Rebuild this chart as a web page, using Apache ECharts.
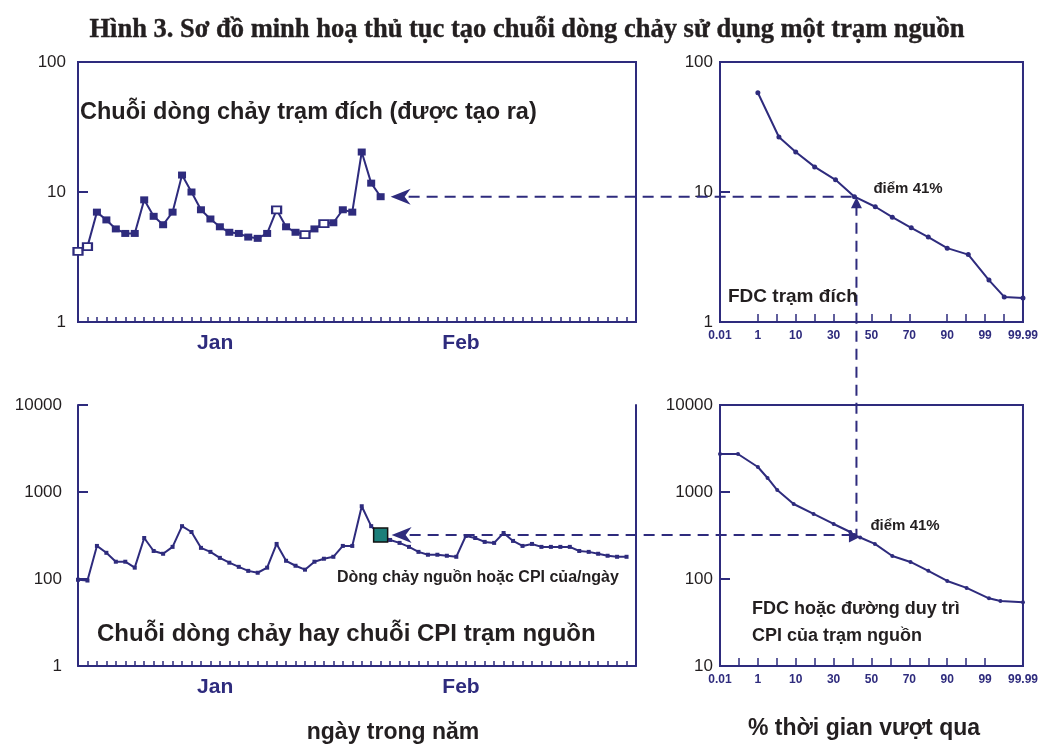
<!DOCTYPE html>
<html>
<head>
<meta charset="utf-8">
<title>Hình 3</title>
<script src="https://cdn.jsdelivr.net/npm/echarts@6/dist/echarts.min.js"></script>
<style>
  html, body { margin: 0; padding: 0; background: #fff; }
  #chart { width: 1041px; height: 744px; }
</style>
</head>
<body>
<div id="chart"></div>
<script>
// Target station (generated) daily flow, day 0..32
var targetFlow = [3.5, 3.8, 7.0, 6.1, 5.2, 4.8, 4.8, 8.7, 6.5, 5.6, 7.0, 13.5, 10, 7.3, 6.2,
                  5.4, 4.9, 4.8, 4.5, 4.4, 4.8, 7.3, 5.4, 4.9, 4.7, 5.2, 5.7, 5.8, 7.3, 7.0,
                  20.3, 11.7, 9.2];
// days drawn with hollow markers in the target series
var targetHollowDays = [0, 1, 21, 24, 26];
// Source station daily flow / CPI, day 0..58
var sourceFlow = [98, 96, 240, 200, 158, 158, 135, 296, 210, 195, 234, 405, 347, 228, 205,
                  175, 154, 138, 124, 118, 135, 253, 162, 142, 128, 158, 171, 180, 240, 240,
                  686, 405, 320, 281, 260, 234, 205, 190, 190, 185, 180, 312, 296, 267, 260,
                  338, 274, 240, 253, 234, 234, 234, 234, 210, 205, 195, 185, 180, 180];

// Flow duration curves (% time exceeded)
var targetFdcPct  = [1, 6, 10, 20, 31, 41, 52, 61, 71, 80, 90, 95, 99.1, 99.5, 99.99];
var targetFdcFlow = [58, 26.5, 20.3, 15.6, 12.4, 9.2, 7.7, 6.4, 5.3, 4.5, 3.7, 3.3, 2.1, 1.56, 1.53];
var sourceFdcPct  = [0.01, 0.48, 1, 3.3, 5.6, 9.5, 19.4, 30, 38.8, 41, 44, 51.8, 61, 70.6, 80, 90, 94.6, 99.1, 99.4, 99.99];
var sourceFdcFlow = [2735, 2735, 1938, 1449, 1054, 728, 559, 429, 347, 320, 300, 253, 184, 157, 124, 95, 79, 60, 56, 54];

// Axis ticks / labels
var exceedTicks      = [0.01, 1, 10, 30, 50, 70, 90, 99, 99.99];
var exceedTickLabels = ['0.01', '1', '10', '30', '50', '70', '90', '99', '99.99'];
var monthLabels  = ['Jan', 'Feb'];
var monthCenters = [14.5, 40.5];
var sourceYTicks  = [10, 100, 1000, 10000];
var sourceYLabels = ['1', '100', '1000', '10000'];

var splitPct = 41;   // "điểm 41%"
var targetDay = 32;  // day being generated

var NAVY = '#2e2b7d';
var INK = '#231f20';
var SANS = '"Liberation Sans", Arial, sans-serif';

// probability-like axis: piecewise linear between labelled ticks
function pctToIdx(p) {
    for (var i = 0; i < exceedTicks.length - 1; i++) {
        if (p <= exceedTicks[i + 1]) {
            return i + (p - exceedTicks[i]) / (exceedTicks[i + 1] - exceedTicks[i]);
        }
    }
    return exceedTicks.length - 1;
}

var dayTicks = [];
for (var d = 0; d <= 59; d++) dayTicks.push(d);

var axisLineStyle = { show: true, onZero: false, lineStyle: { color: NAVY, width: 2 } };

function dayAxis(grid) {
    return {
        gridIndex: grid, type: 'value', min: 0, max: 59,
        axisLine: axisLineStyle,
        axisTick: { show: true, inside: true, length: 5, customValues: dayTicks, lineStyle: { color: NAVY, width: 1.5 } },
        axisLabel: {
            customValues: monthCenters, margin: 11,
            color: NAVY, fontWeight: 'bold', fontSize: 21, fontFamily: SANS,
            formatter: function (v) { return monthLabels[monthCenters.indexOf(v)] || ''; }
        },
        splitLine: { show: false }
    };
}

function exceedAxis(grid, ticks) {
    return {
        gridIndex: grid, type: 'value', min: 0, max: 8,
        axisLine: axisLineStyle,
        axisTick: { show: true, inside: true, length: 8, customValues: ticks, lineStyle: { color: NAVY, width: 1.5 } },
        axisLabel: {
            customValues: [0, 1, 2, 3, 4, 5, 6, 7, 8], margin: 8,
            color: NAVY, fontWeight: 'bold', fontSize: 12, fontFamily: SANS,
            formatter: function (v) { return exceedTickLabels[Math.round(v)]; }
        },
        splitLine: { show: false }
    };
}

function logAxis(grid, min, max, margin, formatter) {
    return {
        gridIndex: grid, type: 'log', logBase: 10, min: min, max: max,
        axisLine: axisLineStyle,
        axisTick: { show: true, inside: true, length: 10, lineStyle: { color: NAVY, width: 2 } },
        axisLabel: {
            margin: margin, color: INK, fontSize: 17, fontFamily: SANS,
            showMinLabel: true, showMaxLabel: true,
            formatter: formatter || function (v) { return String(Math.round(v)); }
        },
        splitLine: { show: false }
    };
}

var chart = echarts.init(document.getElementById('chart'), null, { renderer: 'canvas' });

var border = { show: true, borderColor: NAVY, borderWidth: 2, backgroundColor: 'transparent' };

chart.setOption({
    animation: false,
    grid: [
        Object.assign({ left: 78, top: 62, width: 558, height: 260 }, border),
        Object.assign({ left: 720, top: 62, width: 309, height: 260 }, border),
        { left: 78, top: 405, width: 558, height: 261, show: false },
        Object.assign({ left: 720, top: 405, width: 309, height: 261 }, border)
    ],
    xAxis: [
        dayAxis(0),
        exceedAxis(1, [1, 1.5, 2, 2.5, 3, 4, 4.5, 5, 6, 6.5, 7, 7.5]),
        dayAxis(2),
        exceedAxis(3, [0.5, 1, 1.5, 2, 2.5, 3, 3.5, 4, 4.5, 5, 5.5, 6, 6.5, 7])
    ],
    yAxis: [
        logAxis(0, 1, 100, 12),
        logAxis(1, 1, 100, 7),
        logAxis(2, 10, 10000, 16, function (v) {
            var best = 0;
            for (var i = 1; i < sourceYTicks.length; i++) {
                if (Math.abs(Math.log(v / sourceYTicks[i])) < Math.abs(Math.log(v / sourceYTicks[best]))) best = i;
            }
            return sourceYLabels[best];
        }),
        logAxis(3, 10, 10000, 7),
        // right border of the source series panel
        { gridIndex: 2, type: 'log', min: 10, max: 10000, position: 'right',
          axisLine: axisLineStyle, axisTick: { show: false }, axisLabel: { show: false }, splitLine: { show: false } }
    ],
    series: [
        { type: 'line', xAxisIndex: 0, yAxisIndex: 0,
          data: targetFlow.map(function (v, i) { return [i, v]; }),
          symbol: 'rect', symbolSize: [8, 7], showSymbol: true,
          lineStyle: { color: NAVY, width: 2 }, itemStyle: { color: NAVY } },
        { type: 'scatter', xAxisIndex: 0, yAxisIndex: 0,
          data: targetHollowDays.map(function (i) { return [i, targetFlow[i]]; }),
          symbol: 'rect', symbolSize: [9, 7], z: 4,
          itemStyle: { color: '#fff', opacity: 1, borderColor: NAVY, borderWidth: 2 } },
        { type: 'line', xAxisIndex: 1, yAxisIndex: 1,
          data: targetFdcPct.map(function (p, i) { return [pctToIdx(p), targetFdcFlow[i]]; }),
          symbol: 'circle', symbolSize: 5,
          lineStyle: { color: NAVY, width: 2 }, itemStyle: { color: NAVY } },
        { type: 'line', xAxisIndex: 2, yAxisIndex: 2,
          data: sourceFlow.map(function (v, i) { return [i, v]; }),
          symbol: 'rect', symbolSize: 4,
          lineStyle: { color: NAVY, width: 2 }, itemStyle: { color: NAVY } },
        { type: 'line', xAxisIndex: 3, yAxisIndex: 3,
          data: sourceFdcPct.map(function (p, i) { return [pctToIdx(p), sourceFdcFlow[i]]; }),
          symbol: 'circle', symbolSize: 4,
          lineStyle: { color: NAVY, width: 2 }, itemStyle: { color: NAVY } },
        { type: 'scatter', xAxisIndex: 1, yAxisIndex: 1,
          data: [[pctToIdx(splitPct), targetFdcFlow[targetFdcPct.indexOf(splitPct)]]],
          symbol: 'triangle', symbolSize: 11, symbolOffset: [2, 6], itemStyle: { color: NAVY, opacity: 1 }, z: 5 },
        { type: 'scatter', xAxisIndex: 3, yAxisIndex: 3,
          data: [[pctToIdx(splitPct), sourceFdcFlow[sourceFdcPct.indexOf(splitPct)]]],
          symbol: 'triangle', symbolSize: 11, symbolRotate: -90, symbolOffset: [0, 2], itemStyle: { color: NAVY, opacity: 1 }, z: 5 },
        { type: 'scatter', xAxisIndex: 2, yAxisIndex: 2,
          data: [[targetDay, sourceFlow[targetDay]]],
          symbol: 'rect', symbolSize: 14,
          itemStyle: { color: '#1b7f7a', opacity: 1, borderColor: '#111', borderWidth: 1.5 }, z: 5 }
    ]
});

// connector lines: computed from the axes
var pT = chart.convertToPixel({ xAxisIndex: 1, yAxisIndex: 1 },
    [pctToIdx(splitPct), targetFdcFlow[targetFdcPct.indexOf(splitPct)]]);
var pB = chart.convertToPixel({ xAxisIndex: 3, yAxisIndex: 3 },
    [pctToIdx(splitPct), sourceFdcFlow[sourceFdcPct.indexOf(splitPct)]]);
var qT = chart.convertToPixel({ xAxisIndex: 0, yAxisIndex: 0 }, [targetDay, targetFlow[targetDay]]);
var qB = chart.convertToPixel({ xAxisIndex: 2, yAxisIndex: 2 }, [targetDay, sourceFlow[targetDay]]);

var dash = { stroke: NAVY, lineWidth: 2, lineDash: [11, 7] };

function arrow(tipX, y) {
    return { type: 'polygon', shape: { points: [[tipX, y], [tipX + 20, y - 8], [tipX + 14, y], [tipX + 20, y + 8]] },
             style: { fill: NAVY }, z: 10 };
}

function label(x, y, text, size, extra) {
    var el = { type: 'text', x: x, y: y, z: 10,
               style: { text: text, fill: INK, fontSize: size, fontWeight: 'bold', fontFamily: SANS,
                        align: 'left', verticalAlign: 'middle' } };
    if (extra) Object.assign(el.style, extra);
    return el;
}

var tipT = qT[0] + 10, tipB = qB[0] + 11;

chart.setOption({
    graphic: [
        { type: 'line', shape: { x1: tipT + 18, y1: pT[1], x2: pT[0], y2: pT[1] }, style: dash, z: 10 },
        arrow(tipT, pT[1]),
        { type: 'line', shape: { x1: tipB + 18, y1: pB[1], x2: pB[0], y2: pB[1] }, style: dash, z: 10 },
        arrow(tipB, pB[1]),
        { type: 'line', shape: { x1: pT[0] + 2, y1: pT[1] + 8, x2: pT[0] + 2, y2: pB[1] }, style: dash, z: 10 },

        label(527, 30, 'Hình 3. Sơ đồ minh hoạ thủ tục tạo chuỗi dòng chảy sử dụng một trạm nguồn', 26.5,
              { fontFamily: '"Liberation Serif", "Times New Roman", serif', align: 'center',
                fontWeight: 700, stroke: INK, lineWidth: 0.4 }),
        label(80, 113, 'Chuỗi dòng chảy trạm đích (được tạo ra)', 23.5),
        label(728, 297, 'FDC trạm đích', 19),
        label(pT[0] + 19, pT[1] - 8, 'điểm 41%', 15),
        label(pB[0] + 16, pB[1] - 9, 'điểm 41%', 15),
        label(337, 578, 'Dòng chảy nguồn hoặc CPI của/ngày', 16),
        label(97, 634, 'Chuỗi dòng chảy hay chuỗi CPI trạm nguồn', 24),
        label(752, 623, 'FDC hoặc đường duy trì\nCPI của trạm nguồn', 18, { lineHeight: 27 }),
        label(393, 733, 'ngày trong năm', 23, { align: 'center' }),
        label(864, 729, '% thời gian vượt qua', 23, { align: 'center' })
    ]
});
</script>
</body>
</html>
